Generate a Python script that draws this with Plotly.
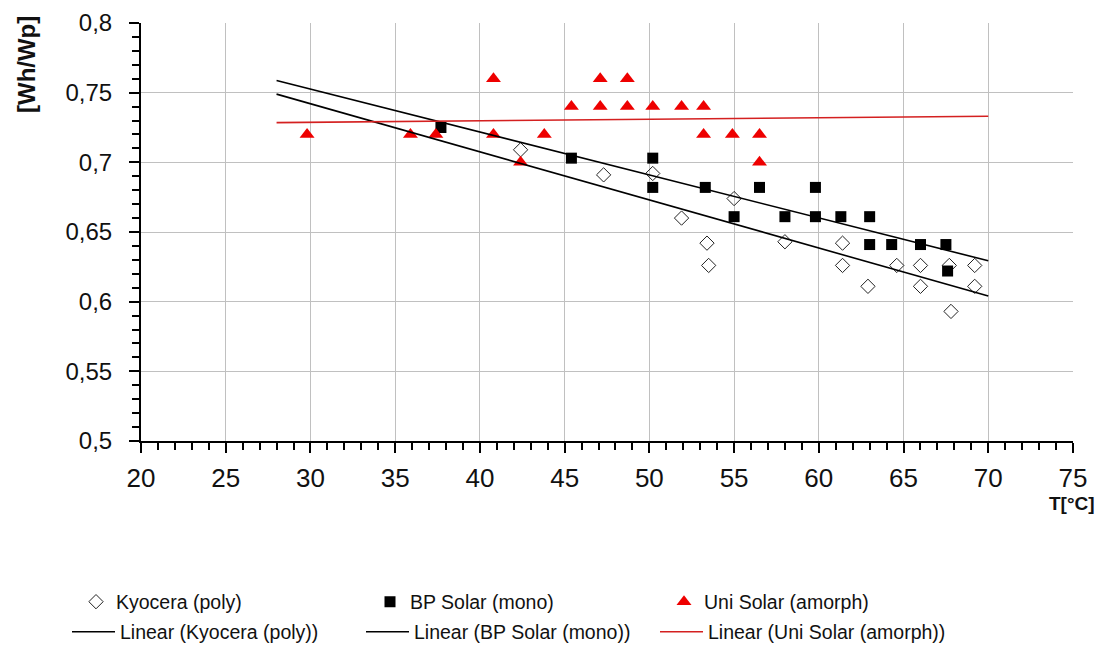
import numpy as np
import plotly.graph_objects as go

# --- data ---
kyo_x = [42.4, 47.3, 50.2, 51.9, 53.4, 53.5, 55.0, 58.0, 61.4, 61.4, 62.9, 64.6, 66.0, 66.0, 67.7, 67.8, 69.2, 69.2]
kyo_y = [0.709, 0.691, 0.692, 0.660, 0.642, 0.626, 0.674, 0.643, 0.642, 0.626, 0.611, 0.626, 0.626, 0.611, 0.626, 0.593, 0.626, 0.611]

bp_x = [37.7, 45.4, 50.2, 50.2, 53.3, 55.0, 56.5, 58.0, 59.8, 59.8, 61.3, 63.0, 63.0, 64.3, 66.0, 67.5, 67.6]
bp_y = [0.725, 0.703, 0.703, 0.682, 0.682, 0.661, 0.682, 0.661, 0.682, 0.661, 0.661, 0.661, 0.641, 0.641, 0.641, 0.641, 0.622]

uni_x = [29.8, 35.9, 37.4, 40.8, 40.8, 42.4, 43.8, 45.4, 47.1, 47.1, 48.7, 48.7, 50.2, 51.9, 53.2, 53.2, 54.9, 56.5, 56.5]
uni_y = [0.72, 0.72, 0.72, 0.76, 0.72, 0.70, 0.72, 0.74, 0.76, 0.74, 0.76, 0.74, 0.74, 0.74, 0.74, 0.72, 0.72, 0.72, 0.70]

trend_range = [28, 70]

x_tick_vals = [20, 25, 30, 35, 40, 45, 50, 55, 60, 65, 70, 75]
y_tick_vals = [0.5, 0.55, 0.6, 0.65, 0.7, 0.75, 0.8]
y_tick_text = ["0,5", "0,55", "0,6", "0,65", "0,7", "0,75", "0,8"]

names = ["Kyocera (poly)", "BP Solar (mono)", "Uni Solar (amorph)"]


def trend(xs, ys):
    k, b = np.polyfit(xs, ys, 1)
    tx = np.array(trend_range, dtype=float)
    return tx, k * tx + b


FONT = "Liberation Sans, Arial, sans-serif"

# page offset of the figure div (body margin)
OFF = 8
W, H = 1103 - OFF, 646 - OFF
L, R, T, B = 141 - OFF, 30, 23 - OFF, 646 - 441
PW = W - L - R
PH = H - T - B


def px_to_paper_x(px):
    return (px - OFF - L) / PW


def py_to_paper_y(py):
    return (H - B - (py - OFF)) / PH


fig = go.Figure()

fig.add_trace(go.Scatter(x=kyo_x, y=kyo_y, mode="markers", name=names[0], legend="legend",
                         marker=dict(symbol="diamond-open", size=11, color="#222", line=dict(width=1))))
fig.add_trace(go.Scatter(x=bp_x, y=bp_y, mode="markers", name=names[1], legend="legend",
                         marker=dict(symbol="square", size=11, color="black")))
fig.add_trace(go.Scatter(x=uni_x, y=uni_y, mode="markers", name=names[2], legend="legend",
                         marker=dict(symbol="triangle-up", size=13, color="#ee0000")))

for xs, ys, nm, col in [(kyo_x, kyo_y, names[0], "black"), (bp_x, bp_y, names[1], "black"),
                        (uni_x, uni_y, names[2], "#d42020")]:
    tx, ty = trend(xs, ys)
    fig.add_trace(go.Scatter(x=tx, y=ty, mode="lines", name=f"Linear ({nm})", legend="legend2",
                             line=dict(color=col, width=1.6)))

axis_common = dict(showline=True, linecolor="black", linewidth=2, ticks="outside",
                   ticklen=10, tickwidth=1.5, tickcolor="black", showgrid=True,
                   gridcolor="#c0c0c0", gridwidth=1, zeroline=False)

fig.update_xaxes(range=[20, 75], tickvals=x_tick_vals, **axis_common, ticklabelstandoff=3,
                 tickfont=dict(family=FONT, size=26, color="#111"),
                 minor=dict(dtick=1, ticks="outside", ticklen=7, tickwidth=1.5, tickcolor="black", showgrid=False))
fig.update_yaxes(range=[0.5, 0.8], tickvals=y_tick_vals, ticktext=y_tick_text, **axis_common,
                 ticklabelstandoff=12,
                 tickfont=dict(family=FONT, size=24, color="#111"),
                 minor=dict(dtick=0.01, ticks="outside", ticklen=7, tickwidth=1.5, tickcolor="black", showgrid=False))

leg_common = dict(orientation="h", entrywidthmode="pixels", yanchor="middle",
                  xanchor="left", font=dict(family=FONT, size=19.5, color="#111"),
                  bgcolor="rgba(0,0,0,0)")

fig.update_layout(
    width=W, height=H,
    margin=dict(l=L, r=R, t=T, b=B, autoexpand=False),
    plot_bgcolor="white", paper_bgcolor="white",
    separators=", ",
    legend=dict(x=px_to_paper_x(76), y=py_to_paper_y(602), entrywidth=249, itemwidth=30, **leg_common),
    legend2=dict(x=px_to_paper_x(67), y=py_to_paper_y(632), entrywidth=236, itemwidth=43, **leg_common),
    annotations=[
        dict(text="<b>[Wh/Wp]</b>", xref="paper", yref="paper", x=px_to_paper_x(27), y=py_to_paper_y(65),
             xanchor="center", yanchor="middle", textangle=-90, showarrow=False,
             font=dict(family=FONT, size=24, color="#111")),
        dict(text="<b>T[°C]</b>", xref="paper", yref="paper", x=px_to_paper_x(1072), y=py_to_paper_y(503),
             xanchor="center", yanchor="middle", showarrow=False,
             font=dict(family=FONT, size=19, color="#111")),
    ],
)

fig.write_html("out.html")
